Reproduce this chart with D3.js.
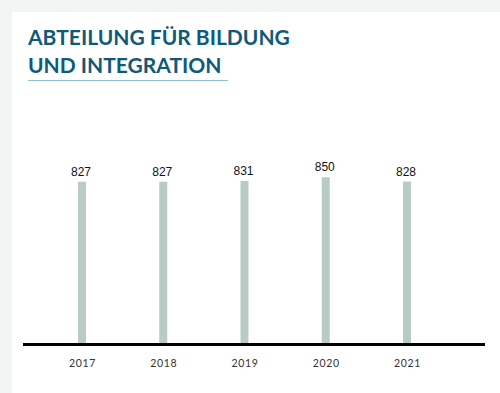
<!DOCTYPE html>
<html>
<head>
<meta charset="utf-8">
<script src="https://cdn.jsdelivr.net/npm/d3@7"></script>
<style>
  html, body { margin: 0; padding: 0; background: #f2f4f3; }
  svg { display: block; }
</style>
</head>
<body>
<svg id="chart" width="500" height="393"></svg>
<script>
// Employee count per year
const years = ["2017", "2018", "2019", "2020", "2021"];
const values = [827, 827, 831, 850, 828];
const titleLines = ["ABTEILUNG FÜR BILDUNG", "UND INTEGRATION"];

const svg = d3.select("#chart");

// white card
svg.append("rect")
  .attr("x", 12).attr("y", 12)
  .attr("width", 488).attr("height", 381)
  .attr("fill", "#ffffff");

// title
const title = svg.append("g");
titleLines.forEach((t, i) => {
  title.append("text")
    .attr("x", 28)
    .attr("y", 45 + i * 28)
    .attr("font-family", "Lato, 'Noto Sans', sans-serif")
    .attr("font-weight", 700)
    .attr("font-size", 21)
    .attr("fill", "#0f5a78")
    .text(t);
});
svg.append("line")
  .attr("x1", 28).attr("x2", 228)
  .attr("y1", 80.5).attr("y2", 80.5)
  .attr("stroke", "#8ebfd6")
  .attr("stroke-width", 1);

// scales
const x = d3.scalePoint().domain(years).range([82, 407]);
const y = d3.scaleLinear().domain([0, 1000]).range([343, 148]);
const barW = 8;

// bars
svg.append("g").selectAll("rect")
  .data(values)
  .join("rect")
  .attr("x", (d, i) => x(years[i]) - barW / 2)
  .attr("y", d => y(d))
  .attr("width", barW)
  .attr("height", d => y(0) - y(d))
  .attr("fill", "#b9cbc6");

// value labels
svg.append("g").selectAll("text")
  .data(values)
  .join("text")
  .attr("x", (d, i) => x(years[i]) - 1)
  .attr("y", d => y(d) - 6)
  .attr("text-anchor", "middle")
  .attr("font-family", "'Liberation Sans', Arial, sans-serif")
  .attr("font-size", 12)
  .attr("fill", "#111")
  .text(d => d);

// baseline
svg.append("line")
  .attr("x1", 23).attr("x2", 485)
  .attr("y1", y(0) + 1.5).attr("y2", y(0) + 1.5)
  .attr("stroke", "#000")
  .attr("stroke-width", 3);

// year axis
const axis = svg.append("g")
  .attr("transform", `translate(0,${y(0) + 3})`)
  .call(d3.axisBottom(x).tickSize(0).tickPadding(14));
axis.select(".domain").remove();
axis.selectAll("text")
  .attr("font-family", "Lato, 'DejaVu Sans', sans-serif")
  .attr("font-size", 10.5)
  .attr("letter-spacing", 0.7)
  .attr("fill", "#333");
</script>
</body>
</html>
